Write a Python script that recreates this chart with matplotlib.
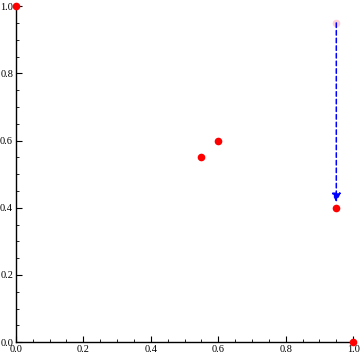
import matplotlib.pyplot as plt
import numpy as np

# points
px = np.array([0.0, 1.0, 0.55, 0.6, 0.95])
py = np.array([1.0, 0.0, 0.55, 0.6, 0.4])
# faded start point and arrow
start = (0.95, 0.95)
end = (0.95, 0.4)
ticks = [0.0, 0.2, 0.4, 0.6, 0.8, 1.0]
tick_labels = ["0.0", "0.2", "0.4", "0.6", "0.8", "1.0"]

plt.rcParams['font.family'] = ['Liberation Serif', 'DejaVu Serif']

fig = plt.figure(figsize=(3.6, 3.59), dpi=100)
ax = fig.add_axes([0.044, 0.047, 0.937, 0.936])

ax.annotate("", xy=end, xytext=start,
            arrowprops=dict(arrowstyle="-|>", color="blue", linestyle=(0, (3, 2)),
                            lw=1.1, shrinkA=0, shrinkB=4, mutation_scale=13))
ax.plot([start[0]], [start[1]], "o", color="#ffd0d8", ms=5.5, mec="none", clip_on=False)
ax.plot(px, py, "o", color="red", ms=5.5, mec="none", clip_on=False, zorder=5)

ax.set_xlim(0, 1)
ax.set_ylim(0, 1)
ax.set_xticks(ticks)
ax.set_xticklabels(tick_labels)
ax.set_yticks(ticks)
ax.set_yticklabels(tick_labels)
ax.set_xticks(np.arange(0, 1.001, 0.05), minor=True)
ax.set_yticks(np.arange(0, 1.001, 0.05), minor=True)
ax.tick_params(which="major", direction="in", length=4, width=0.8, labelsize=7.5, pad=2)
ax.tick_params(which="minor", direction="in", length=2, width=0.6)
ax.spines["top"].set_visible(False)
ax.spines["right"].set_visible(False)
ax.spines["left"].set_linewidth(1.0)
ax.spines["bottom"].set_linewidth(1.0)

fig.savefig("out.png")
